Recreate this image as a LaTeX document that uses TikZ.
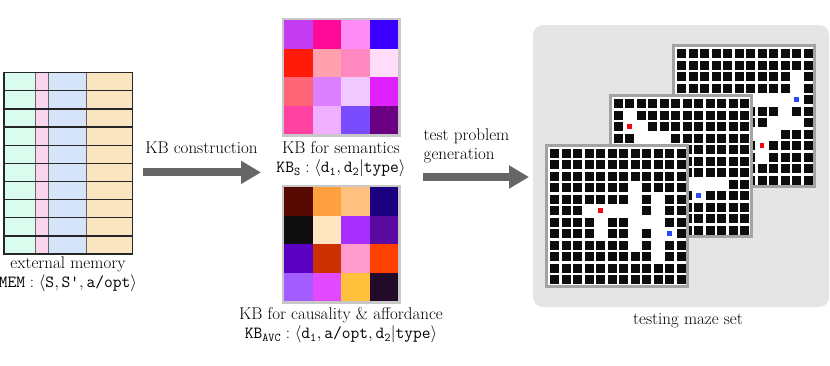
\RequirePackage{fix-cm}
\documentclass[tikz,border=0pt]{standalone}
\usepackage{amsmath}
\usepackage{fontspec}
\usetikzlibrary{arrows.meta}

\definecolor{memmint}{HTML}{D9FCEF}
\definecolor{mempink}{HTML}{F9D6EE}
\definecolor{memblue}{HTML}{D6E4F9}
\definecolor{memtan}{HTML}{F9E6C0}
\definecolor{arrowgrey}{HTML}{666666}
\definecolor{framegrey}{HTML}{C8C8C8}
\definecolor{panelgrey}{HTML}{E5E5E5}
\definecolor{mazegrey}{HTML}{A3A3A3}
\definecolor{mazewallc}{HTML}{0C0C0C}
\definecolor{mazeredc}{HTML}{EE0A14}
\definecolor{mazebluec}{HTML}{2A48FF}

\tikzset{
  bigarrow/.style={draw=arrowgrey, line width=8pt, -{Triangle[length=20pt,width=22pt]}},
  heatframe/.style={draw=framegrey, line width=2.5pt, minimum width=116.5pt, minimum height=116.5pt, inner sep=0pt},
  mazeframe/.style={draw=mazegrey, fill=white, line width=3pt, minimum size=141pt, inner sep=0pt},
  mazewall/.style={fill=mazewallc},
  lbl/.style={anchor=base, inner sep=0pt},
}

% maze: #1 name, #2 left x, #3 top y, #4 open cells r/c, #5 #6 red r c, #7 #8 blue r c
\newcommand{\mymaze}[8]{%
  \begin{scope}[shift={(#2,#3)}]
    \node[mazeframe] (#1) at (72,72) {};
    \foreach \r in {0,...,11}{\foreach \c in {0,...,11}{
      \fill[mazewall] (5+11.5*\c,5+11.5*\r) rectangle ++(9.2,9.2);}}
    \foreach \r/\c in {#4}{\fill[white] (4+11.5*\c,4+11.5*\r) rectangle ++(11.2,11.2);}
    \fill[mazeredc] (7.4+11.5*#6,7.4+11.5*#5) rectangle ++(4.4,4.4);
    \fill[mazebluec] (7.4+11.5*#8,7.4+11.5*#7) rectangle ++(4.4,4.4);
  \end{scope}}

% heat map: #1 name, #2 centre x, #3 centre y, #4 colours
\newcommand{\myheat}[4]{%
  \foreach \cc [count=\i from 0] in {#4}{
    \pgfmathtruncatemacro{\rr}{\i/4}
    \pgfmathtruncatemacro{\kk}{mod(\i,4)}
    \definecolor{tmpc}{HTML}{\cc}
    \fill[tmpc] (#2-57+28.5*\kk,#3-57+28.5*\rr) rectangle ++(28.5,28.5);
  }
  \node[heatframe] (#1) at (#2,#3) {};}

\begin{document}
\begin{tikzpicture}[x=1pt,y=-1pt,font=\fontsize{17}{20}\selectfont]
\useasboundingbox (0,0) rectangle (830,365);

% ---------- external memory ----------
\fill[memmint] (4,72.7) rectangle (35,254);
\fill[mempink] (35,72.7) rectangle (48.7,254);
\fill[memblue] (48.7,72.7) rectangle (86,254);
\fill[memtan] (86,72.7) rectangle (132.7,254);
\foreach \x in {35,48.7,86}{\draw[line width=1pt,draw=black!60] (\x,72.7) -- (\x,254);}
\foreach \k in {1,...,9}{\draw[line width=1.3pt,draw=black!85] (4,72.7+18.13*\k) -- (132.7,72.7+18.13*\k);}
\node[draw=black!85, line width=1.3pt, minimum width=128.7pt, minimum height=181.3pt, inner sep=0pt] (mem) at (68.35,163.35) {};
\node[lbl] (memname) at (68,268.5) {external memory};
\node[lbl] (memform) at (68,287.5) {$\texttt{MEM}:\langle\texttt{S},\texttt{S'},\texttt{a/opt}\rangle$};

% ---------- knowledge bases ----------
\myheat{heatS}{341}{77}{C43CF2,FF0A98,FF8CF7,3A00FF,FF1A0A,FFA0AC,FF88C0,FFDDF9,FF6577,DD80FF,EFC9FF,DF20FF,FF42A2,F0B0FF,7A4CFF,6B0082}
\node[lbl] (semname) at (341,153.7) {KB for semantics};
\node[lbl] (semform) at (341,172.5) {$\texttt{KB}_{\texttt{S}}:\langle\texttt{d}_{\texttt{1}},\texttt{d}_{\texttt{2}}|\texttt{type}\rangle$};

\myheat{heatA}{341}{244}{560900,FFA040,FFC080,1B0080,0E0E0E,FFE6C0,A82EFF,5A0AA0,5A00C2,CC3000,FF9CCC,FF4000,A35CFF,E24AFF,FFC03C,230A28}
\node[lbl] (affname) at (341,319.5) {KB for causality \& affordance};
\node[lbl] (affform) at (341,338.5) {$\texttt{KB}_{\texttt{AVC}}:\langle\texttt{d}_{\texttt{1}},\texttt{a/opt},\texttt{d}_{\texttt{2}}|\texttt{type}\rangle$};

% ---------- arrows ----------
\coordinate (a1s) at (143,172.4);
\coordinate (a1e) at (261,172.4);
\draw[bigarrow] (a1s) -- (a1e);
\node[lbl] (a1lbl) at (201.5,153.7) {KB construction};

\coordinate (a2s) at (423,177);
\coordinate (a2e) at (529,177);
\draw[bigarrow] (a2s) -- (a2e);
\node[lbl, anchor=base west] (a2lbl1) at (423.5,140) {test problem};
\node[lbl, anchor=base west] (a2lbl2) at (423.5,159) {generation};

% ---------- testing maze set ----------
\node[fill=panelgrey, rounded corners=10pt, minimum width=296pt, minimum height=282pt, inner sep=0pt] (panel) at (681,166) {};
\mymaze{mazeC}{672}{44}{2/10,3/10,4/6,4/7,4/8,4/9,4/10,5/9,6/8,6/9,6/10,7/6,7/7,7/8,8/7,9/7}{8}{7}{4}{10}
\mymaze{mazeB}{608.5}{94}{1/1,2/1,2/2,3/2,3/3,3/4,7/6,7/7,7/8,7/9,8/7}{2}{1}{8}{7}
\mymaze{mazeA}{545}{143.5}{3/7,4/7,4/9,5/3,5/4,5/5,5/6,5/7,5/9,6/4,6/7,6/8,6/9,7/4,7/7,7/9,7/10,8/7,8/9,9/9}{5}{4}{7}{10}
\node[lbl] (panellbl) at (688,324) {testing maze set};
\end{tikzpicture}
\end{document}
